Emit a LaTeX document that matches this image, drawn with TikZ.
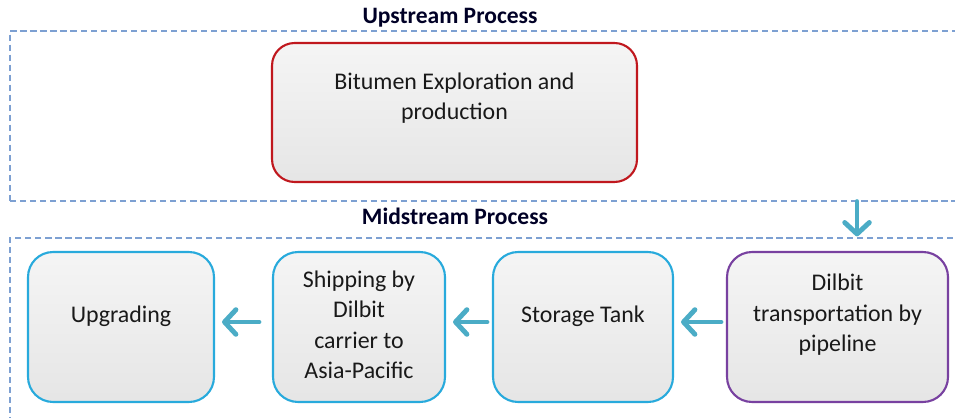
\documentclass[tikz,border=0pt]{standalone}
\usepackage{fontspec}
\setmainfont{Carlito}
\usetikzlibrary{arrows.meta,shadows}
\definecolor{zoneblue}{RGB}{125,160,210}
\definecolor{flowaqua}{RGB}{75,172,198}
\definecolor{upred}{RGB}{192,24,30}
\definecolor{midcyan}{RGB}{40,170,220}
\definecolor{pipepurple}{RGB}{120,65,160}
% text block, lifted by half of the extra depth
\newcommand{\stagetext}[2]{\raisebox{0pt}[\height][\dimexpr\depth+#1\relax]{\begin{tabular}{@{}c@{}}#2\end{tabular}}}
\begin{document}
\begin{tikzpicture}[x=0.02cm, y=-0.02cm,
    zone/.style={rectangle, draw=zoneblue, line width=0.7pt, dash pattern=on 3.5pt off 2.2pt, minimum width=19.8cm},
    zonetitle/.style={font=\bfseries\fontsize{13.4}{15}\selectfont, text=black!85!blue},
    stage/.style={rectangle, rounded corners=0.5cm, line width=1.2pt, top color=white!96!black, bottom color=white!90!black,
        minimum height=3cm, font=\fontsize{13.6}{17.2}\selectfont, text=black!90,
        drop shadow={opacity=0.35, shadow xshift=0.6pt, shadow yshift=-1.8pt}, preaction={draw=white, line width=5pt}},
    flow/.style={draw=flowaqua, line width=2.8pt, line cap=round, -{Straight Barb[length=6.5pt, width=14pt, round]},
        shorten <=0.1cm, shorten >=0.14cm}
]
    \useasboundingbox (0,0) rectangle (955,418);

    % Upstream
    \node[zone, minimum height=3.4cm] (upstream) at (505,116) {};
    \node[zonetitle] (uptitle) at (450,18) {Upstream Process};
    \node[stage, draw=upred, minimum width=7.3cm, minimum height=2.78cm, rounded corners=0.45cm] (explore) at (454.5,112.5)
        {\stagetext{0.56cm}{Bitumen Exploration and\\production}};

    % Midstream
    \node[zone, minimum height=4.5cm] (midstream) at (505,350.5) {};
    \node[zonetitle] (midtitle) at (455,216) {Midstream Process};
    \node[stage, draw=pipepurple, minimum width=4.42cm] (pipeline) at (837.5,327)
        {\stagetext{0.48cm}{Dilbit\\transportation by\\pipeline}};
    \node[stage, draw=midcyan, minimum width=3.6cm] (tank) at (583,327) {\stagetext{0.44cm}{Storage Tank}};
    \node[stage, draw=midcyan, minimum width=3.44cm] (shipping) at (359,327)
        {\stagetext{0pt}{Shipping by\\Dilbit\\carrier to\\Asia-Pacific}};
    \node[stage, draw=midcyan, minimum width=3.72cm] (upgrading) at (121,327) {\stagetext{0.44cm}{Upgrading}};

    % Pfeile
    \coordinate (drop) at (857,0);
    \draw[flow, shorten <=0pt, shorten >=0.02cm] (upstream.south -| drop) -- (midstream.north -| drop);
    \draw[flow] ([yshift=0.1cm]pipeline.west) -- ([yshift=0.1cm]tank.east);
    \draw[flow] ([yshift=0.1cm]tank.west) -- ([yshift=0.1cm]shipping.east);
    \draw[flow, shorten <=0.26cm] ([yshift=0.1cm]shipping.west) -- ([yshift=0.1cm]upgrading.east);
\end{tikzpicture}
\end{document}
